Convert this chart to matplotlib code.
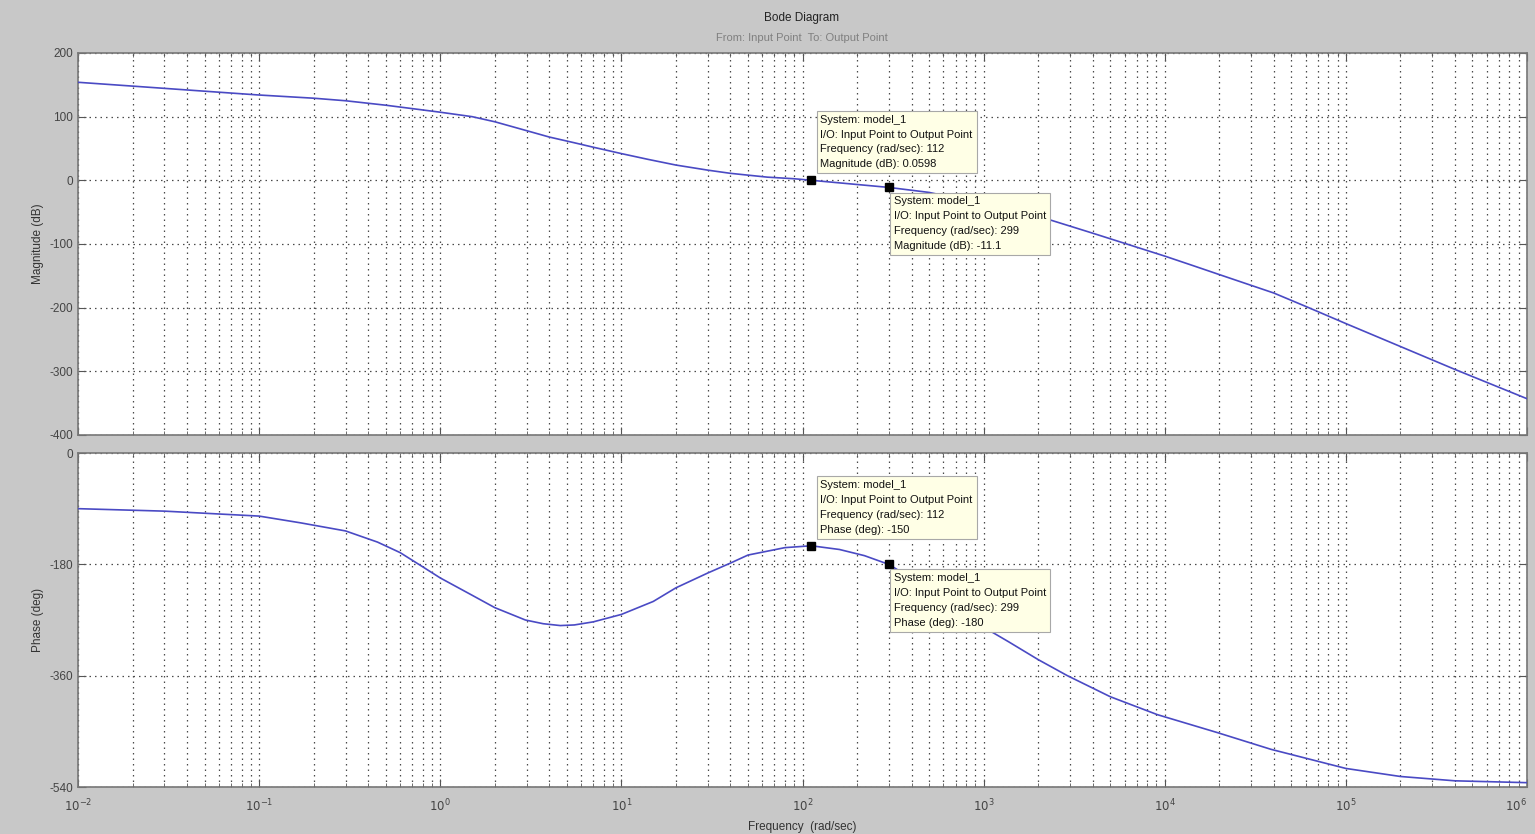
import numpy as np
import matplotlib
matplotlib.use("Agg")
import matplotlib.pyplot as plt

plt.rcParams['font.family'] = ['Liberation Sans', 'DejaVu Sans']
plt.rcParams['axes.unicode_minus'] = False

## DATA
freq_mag = [0.01, 0.02, 0.05, 0.1, 0.2, 0.3, 0.5, 1, 1.5, 2, 3, 4, 5.5, 7, 10, 14, 20,
            30, 40, 64, 90, 112, 299, 500, 1000, 2200, 4000, 7000, 1e4, 1.4e4, 2e4,
            4e4, 6e4, 1e5, 2e5, 4e5, 1e6]
mag_db = [154, 148, 140, 134, 129, 125, 118, 107, 100, 92, 78, 68, 59, 52, 42, 33, 24,
          16, 11, 5, 2.5, 0.0598, -11.1, -19, -37, -60, -83, -105, -119, -133, -148,
          -177, -198, -225, -261, -297, -343]

freq_ph = [0.01, 0.03, 0.1, 0.17, 0.3, 0.45, 0.6, 0.8, 1, 1.5, 2, 2.95, 3.7, 4.6, 5.5,
           7, 10, 15, 20, 30, 40, 50, 80, 112, 160, 220, 299, 500, 800, 1370, 2000,
           2900, 5000, 9100, 1.95e4, 3.85e4, 1e5, 2e5, 4e5, 1e6]
phase_deg = [-90, -94, -102, -113, -126, -144, -161, -184, -202, -230, -250, -270,
             -276, -279, -278, -273, -261, -240, -218, -194, -178, -165, -153, -150,
             -156, -166, -180, -220, -265, -305, -334, -360, -394, -423, -452, -479,
             -510, -523, -530, -533]

# data tips : (freq, value, label)
tips_mag = [(112, 0.0598, "Magnitude (dB): 0.0598"), (299, -11.1, "Magnitude (dB): -11.1")]
tips_ph = [(112, -150, "Phase (deg): -150"), (299, -180, "Phase (deg): -180")]
mag_ticks = [200, 100, 0, -100, -200, -300, -400]
ph_ticks = [0, -180, -360, -540]
decades = list(range(-2, 7))
x_labels = [f"$10^{{{e}}}$" for e in decades]

#%%
W, H = 1535, 834
fig = plt.figure(figsize=(W / 100, H / 100), dpi=100)
fig.patch.set_facecolor("#c8c8c8")

def px_axes(x0, y0, x1, y1):
    return fig.add_axes([x0 / W, 1 - y1 / H, (x1 - x0) / W, (y1 - y0) / H])

ax1 = px_axes(78, 53, 1527, 435)
ax2 = px_axes(78, 453, 1527, 787)

line_col = "#4a4ac4"
ax1.plot(freq_mag, mag_db, color=line_col, lw=1.2, zorder=3)
ax2.plot(freq_ph, phase_deg, color=line_col, lw=1.2, zorder=3)

major_x = [10.0 ** e for e in decades]
minor_x = [m * 10.0 ** e for e in decades[:-1] for m in range(2, 10)]

grid_kw = dict(ls=(0, (1.2, 3.2)), color="#4a4a4a", lw=0.9)
for ax, ticks in ((ax1, mag_ticks), (ax2, ph_ticks)):
    ax.set_xscale("log")
    ax.set_xlim(1e-2, 1e6)
    ax.set_ylim(min(ticks), max(ticks))
    ax.set_yticks(ticks)
    ax.set_xticks(major_x)
    ax.set_xticks(minor_x, minor=True)
    ax.set_xticklabels(x_labels)
    ax.set_xticklabels([], minor=True)
    ax.grid(True, which="major", axis="both", **grid_kw)
    ax.grid(True, which="minor", axis="x", **grid_kw)
    ax.tick_params(which="both", direction="in", top=True, right=True,
                   colors="#555555", labelcolor="#444444", labelsize=8.5)
    ax.tick_params(which="major", length=6)
    ax.tick_params(which="minor", length=3)
    for s in ax.spines.values():
        s.set_color("#777777")
        s.set_linewidth(1.2)

ax1.tick_params(axis="x", labelbottom=False)
ax2.tick_params(axis="x", pad=8)
# last label sits on the figure edge: keep it inside
ax2.xaxis.get_major_ticks()[-1].label1.set_horizontalalignment("right")

def datatip(ax, f, v, label, below):
    ax.plot([f], [v], marker="s", ms=6, color="black", zorder=6)
    txt = f"System: model_1\nI/O: Input Point to Output Point\nFrequency (rad/sec): {f}\n{label}"
    off = (5, -9) if below else (9, 11)
    ax.annotate(txt, xy=(f, v), xytext=off, textcoords="offset pixels",
                ha="left", va="top" if below else "bottom", fontsize=8,
                linespacing=1.6, color="#111111", zorder=7,
                bbox=dict(boxstyle="square,pad=0.35", fc="#ffffe6", ec="#a8a8a8", lw=0.8))

for i, (f, v, lab) in enumerate(tips_mag):
    datatip(ax1, f, v, lab, below=(i == 1))
for i, (f, v, lab) in enumerate(tips_ph):
    datatip(ax2, f, v, lab, below=(i == 1))

fig.text(802 / W, 1 - 18 / H, "Bode Diagram", ha="center", va="center", fontsize=8.5, color="#222222")
fig.text(802 / W, 1 - 38 / H, "From: Input Point  To: Output Point", ha="center", va="center",
         fontsize=8, color="#808080")
fig.text(38 / W, 1 - 244 / H, "Magnitude (dB)", rotation=90, ha="center", va="center", fontsize=8.5, color="#333333")
fig.text(38 / W, 1 - 620 / H, "Phase (deg)", rotation=90, ha="center", va="center", fontsize=8.5, color="#333333")
fig.text(802 / W, 1 - 827 / H, "Frequency  (rad/sec)", ha="center", va="center", fontsize=8.5, color="#333333")

fig.savefig("out.png", dpi=100, facecolor=fig.get_facecolor())
